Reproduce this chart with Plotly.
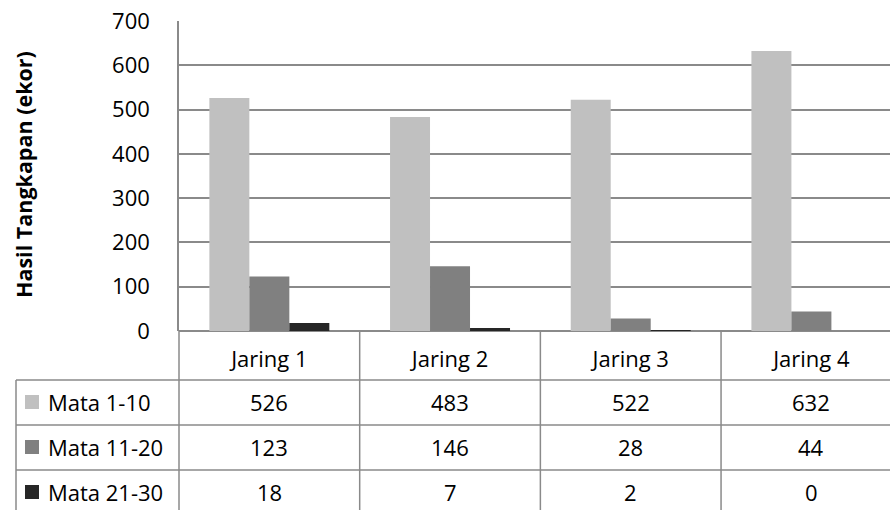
import plotly.graph_objects as go

categories = ["Jaring 1", "Jaring 2", "Jaring 3", "Jaring 4"]
series_names = ["Mata 1-10", "Mata 11-20", "Mata 21-30"]
mata_1_10 = [526, 483, 522, 632]
mata_11_20 = [123, 146, 28, 44]
mata_21_30 = [18, 7, 2, 0]
y_ticks = [0, 100, 200, 300, 400, 500, 600, 700]
y_title = "Hasil Tangkapan (ekor)"

series_values = [mata_1_10, mata_11_20, mata_21_30]
colors = ["#c0c0c0", "#808080", "#262626"]

W, H = 890, 510
L, T, R, B = 179, 21, 890, 331  # plot area in pixels
XR = [-0.5, 3.435]
FONT = "Open Sans"
FS = 22
LINE = "#8a8a8a"

def px_x(p):
    return (p - L) / (R - L)

def px_y(p):
    return (B - p) / (B - T)

def data_x_to_paper(x):
    return (x - XR[0]) / (XR[1] - XR[0])

fig = go.Figure()
for name, vals, col in zip(series_names, series_values, colors):
    fig.add_trace(go.Bar(x=categories, y=vals, name=name, marker=dict(color=col, line=dict(width=0)),
                         showlegend=False))

shapes = []
for yp in [380, 425, 470]:
    shapes.append(dict(type="line", xref="paper", yref="paper", x0=px_x(16), x1=1.0,
                       y0=px_y(yp), y1=px_y(yp), line=dict(color=LINE, width=1.5)))
shapes.append(dict(type="line", xref="paper", yref="paper", x0=px_x(16), x1=px_x(16),
                   y0=px_y(380), y1=px_y(512), line=dict(color=LINE, width=1.5)))
shapes.append(dict(type="line", xref="paper", yref="paper", x0=0, x1=0,
                   y0=0, y1=px_y(512), line=dict(color=LINE, width=1.5)))
for i in range(len(categories) - 1):
    xp = data_x_to_paper(i + 0.5)
    shapes.append(dict(type="line", xref="paper", yref="paper", x0=xp, x1=xp,
                       y0=0, y1=px_y(512), line=dict(color=LINE, width=1.5)))

annotations = []
row_y = [402, 447, 492]
for r, (name, vals, col) in enumerate(zip(series_names, series_values, colors)):
    yc = row_y[r]
    shapes.append(dict(type="rect", xref="paper", yref="paper", x0=px_x(25), x1=px_x(39),
                       y0=px_y(yc + 7), y1=px_y(yc - 7), fillcolor=col, line=dict(width=0)))
    annotations.append(dict(text=name, xref="paper", yref="paper", x=px_x(46), y=px_y(yc),
                            xanchor="left", yanchor="middle", showarrow=False,
                            font=dict(family=FONT, size=FS, color="#000")))
    for i, v in enumerate(vals):
        annotations.append(dict(text=str(v), xref="x", yref="paper", x=categories[i], y=px_y(yc),
                                xanchor="center", yanchor="middle", showarrow=False,
                                font=dict(family=FONT, size=FS, color="#000")))

annotations.append(dict(text=f"<b>{y_title}</b>", xref="paper", yref="paper", x=px_x(23),
                        y=px_y(175), textangle=-90, xanchor="center", yanchor="middle",
                        showarrow=False, font=dict(family=FONT, size=21.5, color="#000")))

fig.update_layout(
    width=W, height=H,
    margin=dict(l=L, r=W - R, t=T, b=H - B, pad=0),
    paper_bgcolor="white", plot_bgcolor="white",
    barmode="group", bargap=0.336, bargroupgap=0,
    shapes=shapes, annotations=annotations,
    font=dict(family=FONT, size=FS, color="#000"),
)
fig.update_xaxes(range=XR, showgrid=False, zeroline=False, showline=False,
                 ticks="outside", ticklen=9, tickcolor="rgba(0,0,0,0)",
                 tickfont=dict(family=FONT, size=FS, color="#000"))
fig.update_yaxes(range=[0, 700], tickvals=y_ticks, showgrid=True, gridcolor=LINE, gridwidth=1.5,
                 zeroline=True, zerolinecolor=LINE, zerolinewidth=1.5,
                 showline=True, linecolor=LINE, linewidth=1.5,
                 ticks="outside", ticklen=23, tickcolor="rgba(0,0,0,0)",
                 tickfont=dict(family=FONT, size=FS, color="#000"))

fig.write_html("out.html")
